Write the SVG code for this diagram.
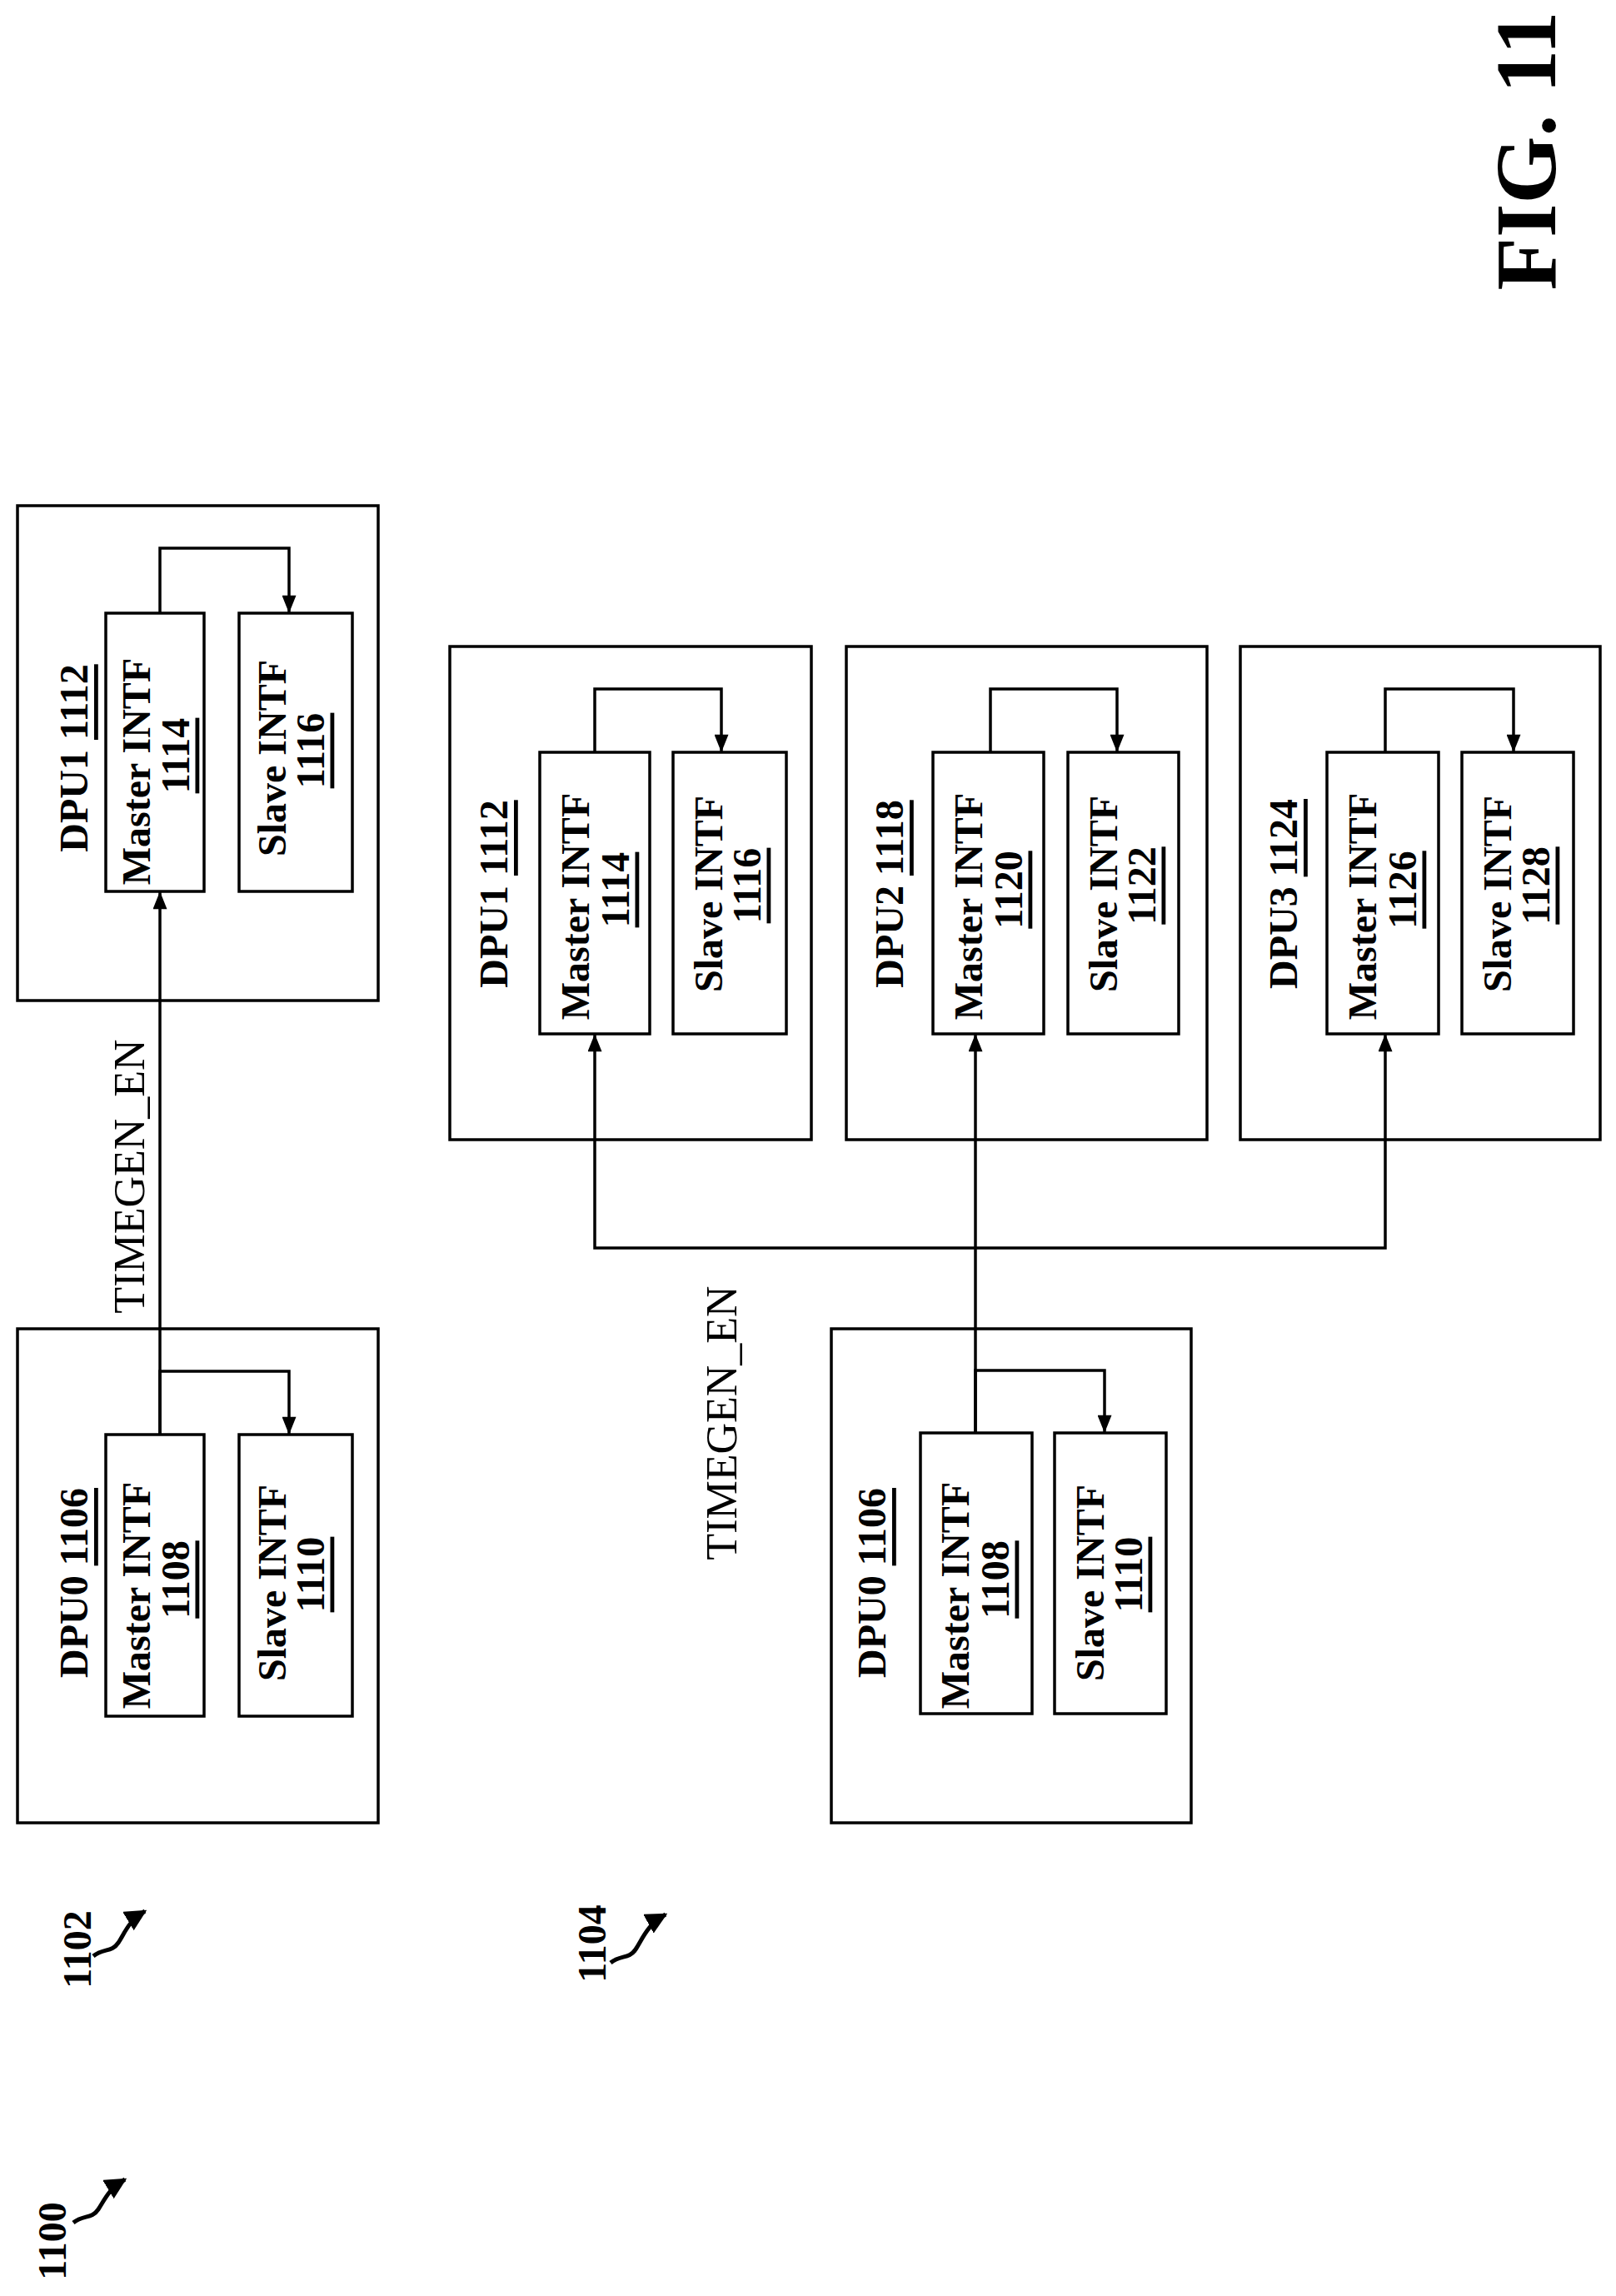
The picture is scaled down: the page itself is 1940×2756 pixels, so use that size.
<svg xmlns="http://www.w3.org/2000/svg" width="1940" height="2756" viewBox="0 0 1940 2756">
<style>
rect{fill:none;stroke:#000;stroke-width:3.5}
.c{fill:none;stroke:#000;stroke-width:3.5}
.q{fill:none;stroke:#000;stroke-width:5}
text{font-family:"Liberation Serif","Times New Roman",serif;fill:#000;text-anchor:middle;dominant-baseline:central}
.b{font-weight:bold;font-size:48px}
.r{font-size:52px}
.u{text-decoration:underline}
</style>
<defs>
<marker id="a" viewBox="0 0 20 16" refX="20" refY="8" markerWidth="22" markerHeight="17" markerUnits="userSpaceOnUse" orient="auto">
<path d="M0,0 L20,8 L0,16 z" fill="#000"/>
</marker>
<marker id="q" viewBox="0 0 20 20" refX="18" refY="10" markerWidth="26" markerHeight="26" markerUnits="userSpaceOnUse" orient="auto">
<path d="M0,0 L20,10 L0,20 z" fill="#000"/>
</marker>
</defs>

<g id="dpu1_a">
<rect x="21" y="607" width="433" height="594"/>
<text class="b" transform="translate(88,910) rotate(-90)">DPU1 <tspan class="u">1112</tspan></text>
</g>
<g id="m1114_a"><rect x="127" y="736" width="118" height="334"/>
<text class="b" transform="translate(163,926) rotate(-90)">Master INTF</text>
<text class="b u" transform="translate(210,907) rotate(-90)">1114</text></g>
<g id="s1116_a"><rect x="287" y="736" width="136" height="334"/>
<text class="b" transform="translate(326,910) rotate(-90)">Slave INTF</text>
<text class="b u" transform="translate(372,901) rotate(-90)">1116</text></g>

<g id="dpu0_a">
<rect x="21" y="1595" width="433" height="593"/>
<text class="b" transform="translate(88,1900) rotate(-90)">DPU0 <tspan class="u">1106</tspan></text>
</g>
<g id="m1108_a"><rect x="127" y="1722" width="118" height="338"/>
<text class="b" transform="translate(163,1915) rotate(-90)">Master INTF</text>
<text class="b u" transform="translate(210,1896) rotate(-90)">1108</text></g>
<g id="s1110_a"><rect x="287" y="1722" width="136" height="338"/>
<text class="b" transform="translate(326,1900) rotate(-90)">Slave INTF</text>
<text class="b u" transform="translate(372,1890) rotate(-90)">1110</text></g>

<g id="dpu1_b"><rect x="540" y="776" width="434" height="592"/>
<text class="b" transform="translate(592,1073) rotate(-90)">DPU1 <tspan class="u">1112</tspan></text></g>
<g id="m1114_b"><rect x="648" y="903" width="132" height="338"/>
<text class="b" transform="translate(690,1088) rotate(-90)">Master INTF</text>
<text class="b u" transform="translate(738,1068) rotate(-90)">1114</text></g>
<g id="s1116_b"><rect x="808" y="903" width="136" height="338"/>
<text class="b" transform="translate(850,1073) rotate(-90)">Slave INTF</text>
<text class="b u" transform="translate(896,1063) rotate(-90)">1116</text></g>

<g id="dpu2"><rect x="1016" y="776" width="433" height="592"/>
<text class="b" transform="translate(1067,1073) rotate(-90)">DPU2 <tspan class="u">1118</tspan></text></g>
<g id="m1120"><rect x="1120" y="903" width="133" height="338"/>
<text class="b" transform="translate(1162,1088) rotate(-90)">Master INTF</text>
<text class="b u" transform="translate(1210,1068) rotate(-90)">1120</text></g>
<g id="s1122"><rect x="1282" y="903" width="133" height="338"/>
<text class="b" transform="translate(1324,1073) rotate(-90)">Slave INTF</text>
<text class="b u" transform="translate(1370,1063) rotate(-90)">1122</text></g>

<g id="dpu3"><rect x="1489" y="776" width="432" height="592"/>
<text class="b" transform="translate(1540,1073) rotate(-90)">DPU3 <tspan class="u">1124</tspan></text></g>
<g id="m1126"><rect x="1593" y="903" width="134" height="338"/>
<text class="b" transform="translate(1635,1088) rotate(-90)">Master INTF</text>
<text class="b u" transform="translate(1683,1068) rotate(-90)">1126</text></g>
<g id="s1128"><rect x="1755" y="903" width="134" height="338"/>
<text class="b" transform="translate(1797,1073) rotate(-90)">Slave INTF</text>
<text class="b u" transform="translate(1843,1063) rotate(-90)">1128</text></g>

<g id="dpu0_b"><rect x="998" y="1595" width="432" height="593"/>
<text class="b" transform="translate(1046,1900) rotate(-90)">DPU0 <tspan class="u">1106</tspan></text></g>
<g id="m1108_b"><rect x="1105" y="1720" width="134" height="337"/>
<text class="b" transform="translate(1146,1915) rotate(-90)">Master INTF</text>
<text class="b u" transform="translate(1194,1896) rotate(-90)">1108</text></g>
<g id="s1110_b"><rect x="1266" y="1720" width="134" height="337"/>
<text class="b" transform="translate(1308,1900) rotate(-90)">Slave INTF</text>
<text class="b u" transform="translate(1354,1890) rotate(-90)">1110</text></g>

<g id="connectors">
<path class="c" d="M192,736 V658 H347 V736" marker-end="url(#a)"/>
<path class="c" d="M192,1722 V1646 H347 V1722" marker-end="url(#a)"/>
<path class="c" d="M192,1722 V1070" marker-end="url(#a)"/>
<path class="c" d="M714,903 V827 H866 V903" marker-end="url(#a)"/>
<path class="c" d="M1189,903 V827 H1341 V903" marker-end="url(#a)"/>
<path class="c" d="M1663,903 V827 H1817 V903" marker-end="url(#a)"/>
<path class="c" d="M1171,1720 V1645 H1326 V1720" marker-end="url(#a)"/>
<path class="c" d="M1171,1720 V1241" marker-end="url(#a)"/>
<path class="c" d="M1171,1498 H714 V1241" marker-end="url(#a)"/>
<path class="c" d="M1171,1498 H1663 V1241" marker-end="url(#a)"/>
<path class="q" d="M112,2348 c12,-10 22,-4 30,-16 c8,-12 12,-26 32,-38" marker-end="url(#q)"/>
<path class="q" d="M733,2356 c12,-10 22,-4 30,-16 c8,-12 14,-30 36,-42" marker-end="url(#q)"/>
<path class="q" d="M88,2668 c12,-10 22,-4 30,-16 c8,-12 12,-24 32,-36" marker-end="url(#q)"/>
</g>

<text class="r" transform="translate(155,1412) rotate(-90)">TIMEGEN_EN</text>
<text class="r" transform="translate(866,1708) rotate(-90)">TIMEGEN_EN</text>
<text class="b" transform="translate(92,2340) rotate(-90)">1102</text>
<text class="b" transform="translate(710,2333) rotate(-90)">1104</text>
<text class="b" transform="translate(62,2690) rotate(-90)">1100</text>
<text style="font-weight:bold;font-size:104px" transform="translate(1831,181) rotate(-90)">FIG. 11</text>
</svg>
